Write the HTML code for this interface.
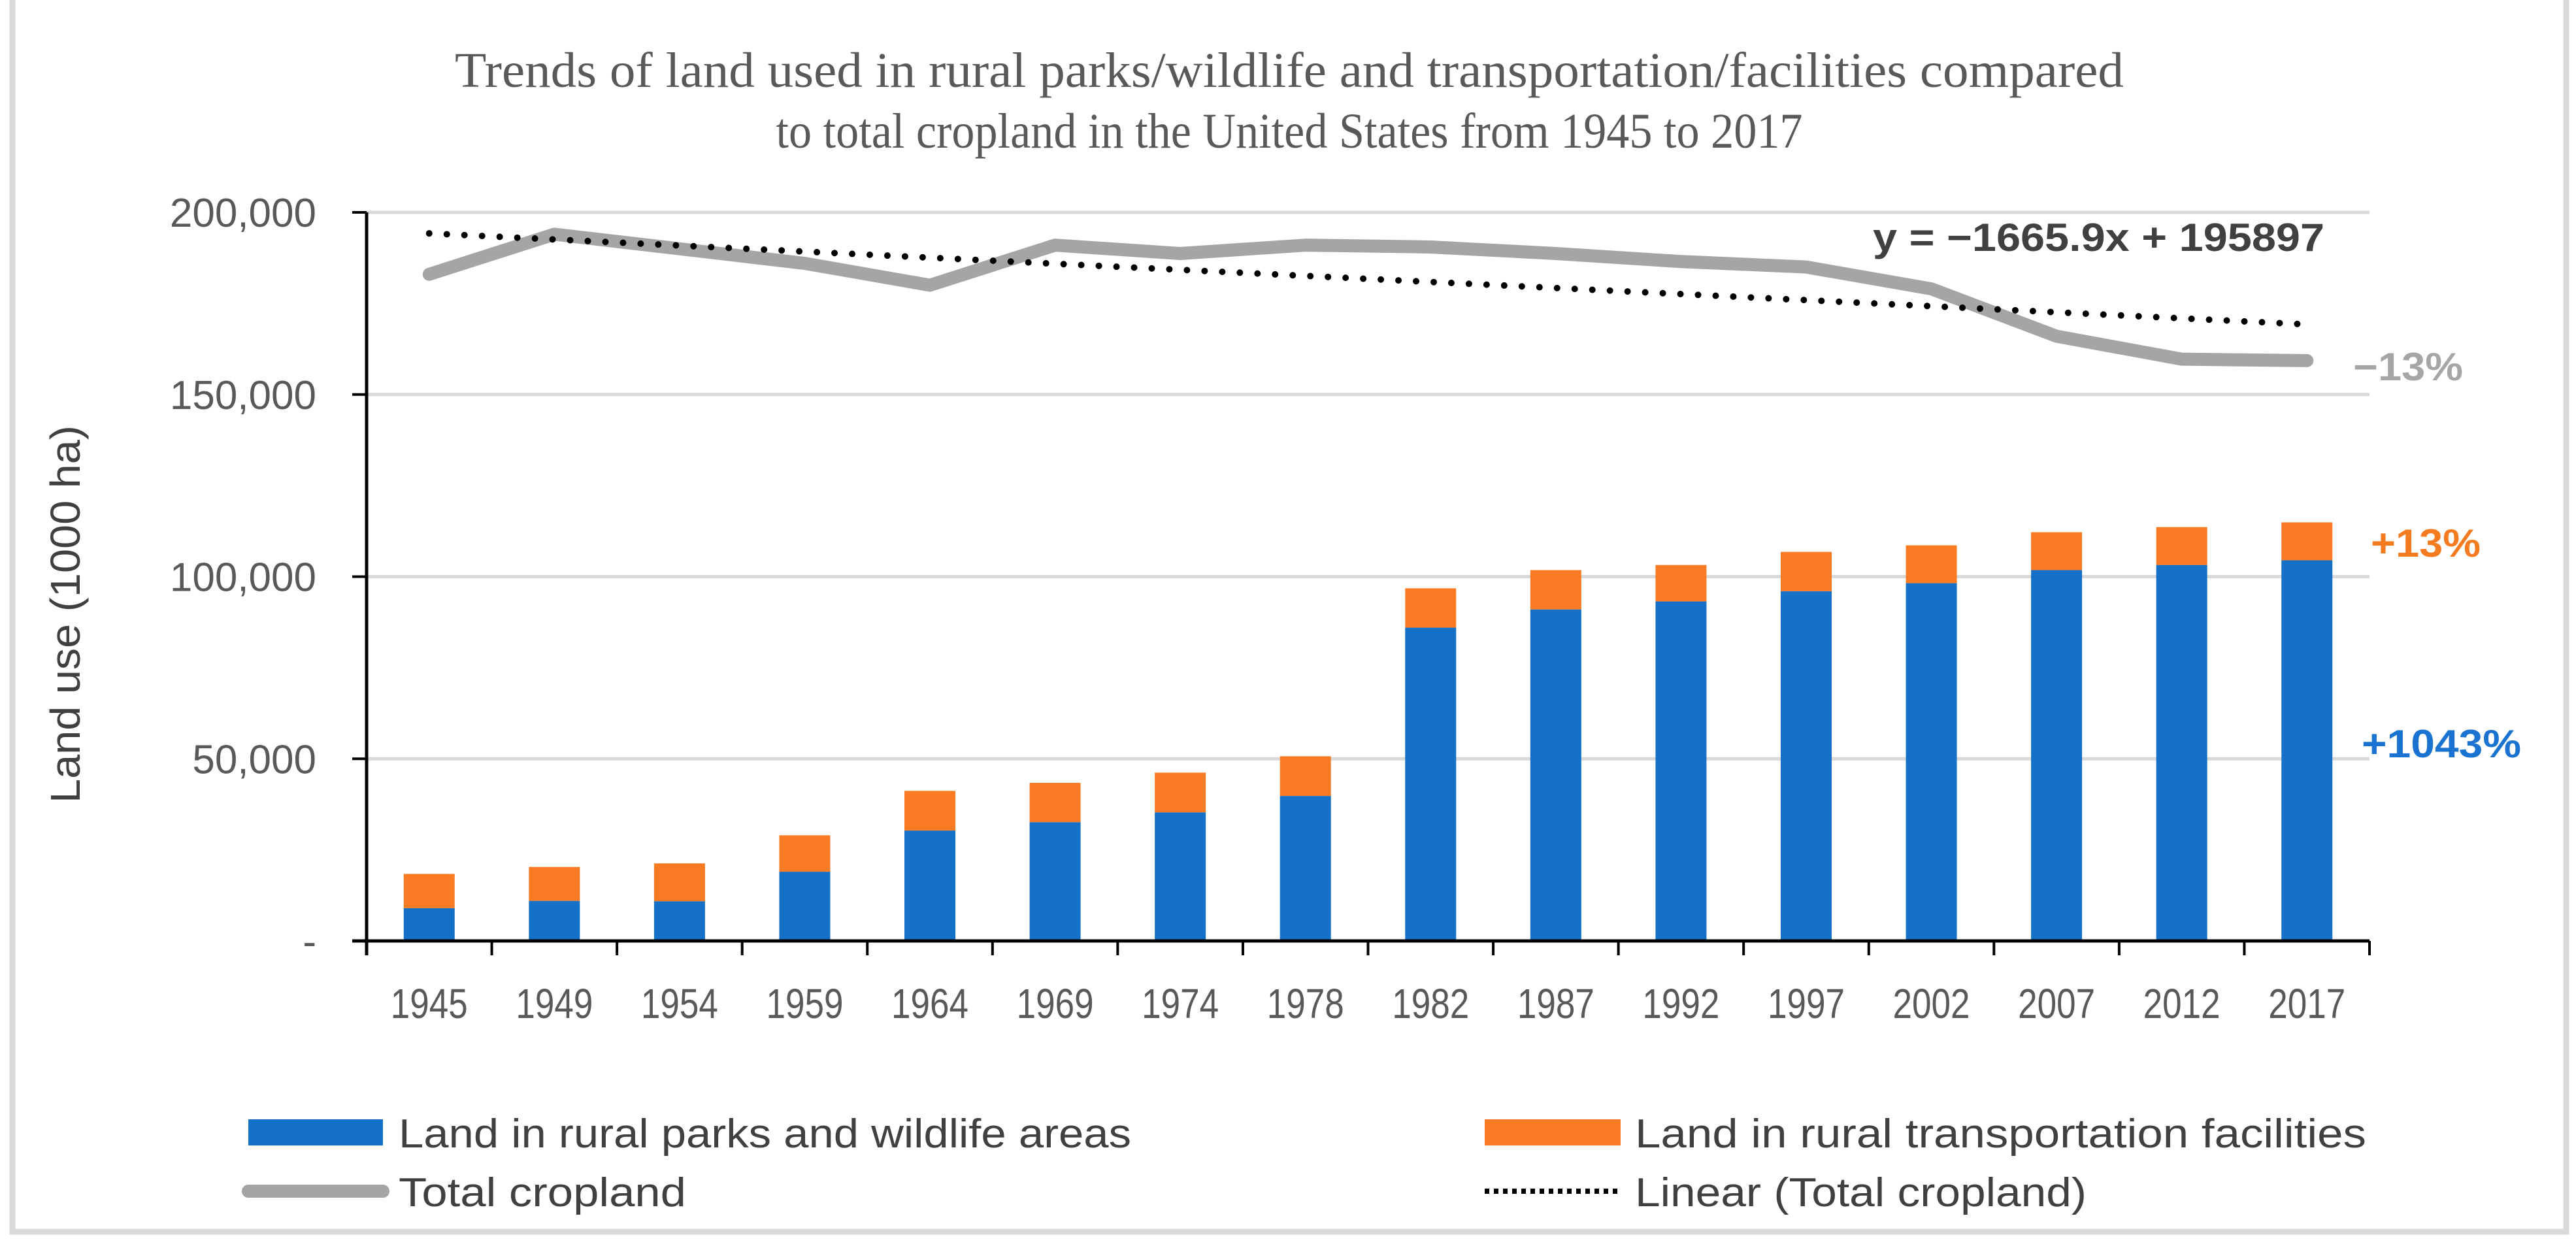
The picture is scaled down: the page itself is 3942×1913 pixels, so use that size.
<!DOCTYPE html>
<html><head><meta charset="utf-8">
<style>
html,body{margin:0;padding:0;background:#fff;}
body{width:3942px;height:1913px;overflow:hidden;position:relative;}
svg{position:absolute;left:0;top:0;}
</style></head>
<body>
<svg id="chart" width="3942" height="1913" viewBox="0 0 3942 1913" xmlns="http://www.w3.org/2000/svg">
  <rect x="19" y="-20" width="3908" height="1905" fill="none" stroke="#d9d9d9" stroke-width="9"/>
  <text x="1973" y="133" text-anchor="middle" font-family="Liberation Serif, serif" font-size="76" fill="#595959" textLength="2554" lengthAdjust="spacingAndGlyphs">Trends of land used in rural parks/wildlife and transportation/facilities  compared</text>
  <text x="1973" y="226" text-anchor="middle" font-family="Liberation Serif, serif" font-size="76" fill="#595959" textLength="1571" lengthAdjust="spacingAndGlyphs">to total cropland in the United States from 1945 to 2017</text>
  <text transform="translate(122,940) rotate(-90)" text-anchor="middle" font-family="Liberation Sans, sans-serif" font-size="64" fill="#404040" textLength="578" lengthAdjust="spacingAndGlyphs">Land use (1000 ha)</text>
  <g id="grid"></g>
  <g id="bars"></g>
  <g id="lines"></g>
  <g id="axes"></g>
  <text x="3557" y="384" text-anchor="end" font-family="Liberation Sans, sans-serif" font-weight="bold" font-size="60" fill="#404040" textLength="691" lengthAdjust="spacingAndGlyphs">y = −1665.9x + 195897</text>
  <text x="3601" y="582" font-family="Liberation Sans, sans-serif" font-weight="bold" font-size="60" fill="#a6a6a6" textLength="168" lengthAdjust="spacingAndGlyphs">−13%</text>
  <text x="3628" y="852" font-family="Liberation Sans, sans-serif" font-weight="bold" font-size="60" fill="#f47b20" textLength="168" lengthAdjust="spacingAndGlyphs">+13%</text>
  <text x="3614" y="1159" font-family="Liberation Sans, sans-serif" font-weight="bold" font-size="60" fill="#1a73d0" textLength="244" lengthAdjust="spacingAndGlyphs">+1043%</text>
  <g font-family="Liberation Sans, sans-serif" font-size="62" fill="#404040">
    <g>
      <rect x="380" y="1713" width="206" height="40" fill="#1570c8"/>
      <text x="610" y="1756" textLength="1121" lengthAdjust="spacingAndGlyphs">Land in rural parks and wildlife areas</text>
    </g>
    <g>
      <rect x="2272" y="1713" width="208" height="40" fill="#fb7b24"/>
      <text x="2502" y="1756" textLength="1119" lengthAdjust="spacingAndGlyphs">Land in rural transportation facilities</text>
    </g>
    <g>
      <line x1="380" y1="1823" x2="586" y2="1823" stroke="#a5a5a5" stroke-width="20" stroke-linecap="round"/>
      <text x="610" y="1846" textLength="440" lengthAdjust="spacingAndGlyphs">Total cropland</text>
    </g>
    <g>
      <line x1="2272" y1="1823" x2="2478" y2="1823" stroke="#000" stroke-width="8" stroke-dasharray="7 7"/>
      <text x="2502" y="1846" textLength="691" lengthAdjust="spacingAndGlyphs">Linear (Total cropland)</text>
    </g>
  </g>
</svg>
<script>
const categories = ["1945","1949","1954","1959","1964","1969","1974","1978","1982","1987","1992","1997","2002","2007","2012","2017"];
const parksValues = [9000,11000,10900,19000,30300,32600,35300,39800,86000,91000,93200,96000,98200,101800,103200,104500];
const transportValues = [9400,9300,10400,10000,10900,10800,10900,10900,10800,10800,10000,10800,10400,10400,10400,10400];
const croplandValues = [183000,194000,190000,186000,180000,191000,188700,191000,190500,188700,186500,185000,179000,166000,159700,159300];
const yTicks = [0,50000,100000,150000,200000];
const yTickLabels = ["-","50,000","100,000","150,000","200,000"];
const trendSlope = -1665.9;
const trendIntercept = 195897;

const NS = "http://www.w3.org/2000/svg";
const plotL = 561, plotR = 3626, plotT = 325, plotB = 1440, yMax = 200000;
const band = (plotR - plotL) / categories.length;
const barW = 78;
function xCenter(i){ return plotL + band * (i + 0.5); }
function yScale(v){ return plotB - (v / yMax) * (plotB - plotT); }
function mk(tag, attrs, parent){
  const e = document.createElementNS(NS, tag);
  for (const k in attrs) e.setAttribute(k, attrs[k]);
  parent.appendChild(e);
  return e;
}
const grid = document.getElementById('grid');
const bars = document.getElementById('bars');
const lines = document.getElementById('lines');
const axes = document.getElementById('axes');

yTicks.forEach((t, i) => {
  const y = yScale(t);
  if (t > 0) {
    const g = mk('line', {x1: plotL, x2: plotR, y1: y, y2: y, stroke: '#d9d9d9', 'stroke-width': 5}, grid);
    
    
  }
  const tk = mk('line', {x1: plotL - 22, x2: plotL, y1: y, y2: y, stroke: '#000', 'stroke-width': 4}, axes);
  
  
  const lb = mk('text', {x: 484, y: y + 22, 'text-anchor': 'end', 'font-family': 'Liberation Sans, sans-serif', 'font-size': 62, fill: '#595959'}, axes);
  lb.textContent = yTickLabels[i];
  
  
});

categories.forEach((c, i) => {
  const cx = xCenter(i);
  const yb = yScale(parksValues[i]);
  const b1 = mk('rect', {x: cx - barW/2, y: yb, width: barW, height: plotB - yb, fill: '#1570c8'}, bars);
  
  
  const yt = yScale(parksValues[i] + transportValues[i]);
  const b2 = mk('rect', {x: cx - barW/2, y: yt, width: barW, height: yb - yt, fill: '#fb7b24'}, bars);
  
  
  const lb = mk('text', {x: cx, y: 1558, 'text-anchor': 'middle', 'font-family': 'Liberation Sans, sans-serif', 'font-size': 64, fill: '#595959', textLength: 118, lengthAdjust: 'spacingAndGlyphs'}, axes);
  lb.textContent = c;
  
  
});
for (let i = 0; i <= categories.length; i++) {
  const x = plotL + band * i;
  const tk = mk('line', {x1: x, x2: x, y1: plotB, y2: plotB + 22, stroke: '#000', 'stroke-width': 4}, axes);
  
  
}
const ya = mk('line', {x1: plotL, x2: plotL, y1: plotT, y2: plotB + 22, stroke: '#000', 'stroke-width': 5}, axes);


const xa = mk('line', {x1: plotL - 22, x2: plotR, y1: plotB, y2: plotB, stroke: '#000', 'stroke-width': 5}, axes);



const pts = croplandValues.map((v, i) => xCenter(i) + ',' + yScale(v)).join(' ');
const cl = mk('polyline', {points: pts, fill: 'none', stroke: '#a5a5a5', 'stroke-width': 20, 'stroke-linejoin': 'round', 'stroke-linecap': 'round'}, lines);


const n = categories.length;
const tl = mk('line', {x1: xCenter(0), y1: yScale(trendSlope * 1 + trendIntercept), x2: xCenter(n - 1), y2: yScale(trendSlope * n + trendIntercept), stroke: '#000', 'stroke-width': 10, 'stroke-dasharray': '0 27', 'stroke-linecap': 'round'}, lines);


</script>
</body></html>
